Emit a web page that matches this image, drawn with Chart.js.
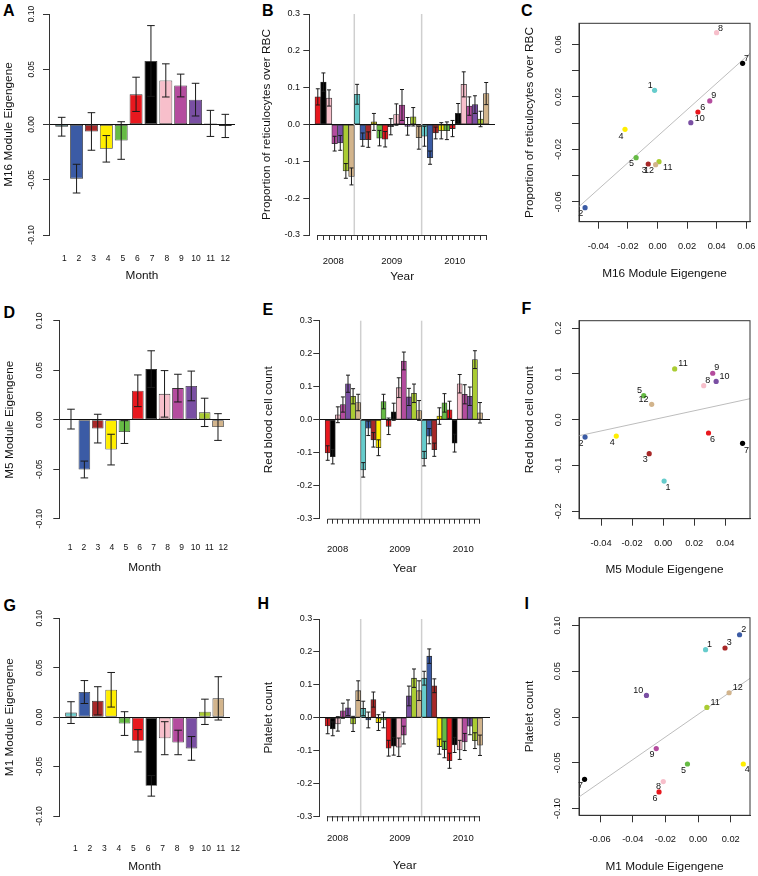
<!DOCTYPE html>
<html>
<head>
<meta charset="utf-8">
<script src="https://cdn.jsdelivr.net/npm/chart.js@4.4.0/dist/chart.umd.min.js"></script>
<style>
  html, body { margin: 0; padding: 0; background: #fff; }
  #fig { position: relative; width: 758px; height: 876px; overflow: hidden; }
  .tag { position: absolute; font: bold 16px "Liberation Sans", Arial, sans-serif; line-height: 16px; color: #000; }
</style>
</head>
<body>
<div id="fig">
  <div class="tag" style="left:3px;top:3px">A</div>
  <div class="tag" style="left:262px;top:3px">B</div>
  <div class="tag" style="left:521px;top:3px">C</div>
  <div class="tag" style="left:3.5px;top:304.7px">D</div>
  <div class="tag" style="left:262.5px;top:302px">E</div>
  <div class="tag" style="left:521.5px;top:301.3px">F</div>
  <div class="tag" style="left:3.5px;top:598px">G</div>
  <div class="tag" style="left:257.5px;top:596.3px">H</div>
  <div class="tag" style="left:524.5px;top:596.3px">I</div>
</div>
<script>
// ---- data ----
const MONTHS = [1, 2, 3, 4, 5, 6, 7, 8, 9, 10, 11, 12];

// module eigengene, mean and standard error per calendar month
const M16_MEAN = [-0.002, -0.049, -0.0063, -0.022, -0.0145, 0.0273, 0.0575, 0.0399, 0.0353, 0.0225, 0.001, -0.0013];
const M16_SE   = [0.0085, 0.013, 0.017, 0.012, 0.017, 0.0155, 0.032, 0.015, 0.0103, 0.0148, 0.0118, 0.0105];
const M5_MEAN  = [0.0006, -0.0503, -0.009, -0.0302, -0.0125, 0.0292, 0.0511, 0.0261, 0.0319, 0.0341, 0.0074, -0.0074];
const M5_SE    = [0.01, 0.0085, 0.0145, 0.0155, 0.0115, 0.016, 0.0185, 0.0235, 0.014, 0.015, 0.0143, 0.0135];
const M1_MEAN  = [0.0046, 0.0254, 0.0165, 0.0277, -0.0065, -0.0239, -0.0695, -0.0213, -0.0256, -0.0316, 0.0054, 0.019];
const M1_SE    = [0.011, 0.0116, 0.0143, 0.0175, 0.012, 0.0113, 0.0104, 0.0167, 0.0124, 0.012, 0.0128, 0.0219];

// blood traits, June 2008 - December 2010
const YEARS = [2008, 2009, 2010];
const SERIES_MONTH = [6, 7, 8, 9, 10, 11, 12,
                      1, 2, 3, 4, 5, 6, 7, 8, 9, 10, 11, 12,
                      1, 2, 3, 4, 5, 6, 7, 8, 9, 10, 11, 12];
const RETIC = [0.075, 0.115, 0.072, -0.052, -0.05, -0.126, -0.141,
               0.082, -0.041, -0.041, 0.007, -0.037, -0.04, -0.006, 0.027, 0.053, -0.005, 0.021, -0.036,
               -0.032, -0.09, -0.023, -0.017, -0.017, -0.011, 0.03, 0.109, 0.05, 0.054, 0.015, 0.084];
const RETIC_SE = [0.022, 0.025, 0.022, 0.02, 0.02, 0.02, 0.023,
                  0.027, 0.018, 0.021, 0.023, 0.021, 0.021, 0.022, 0.029, 0.042, 0.024, 0.025, 0.031,
                  0.027, 0.018, 0.016, 0.022, 0.024, 0.022, 0.027, 0.034, 0.025, 0.024, 0.021, 0.03];
const RBC = [-0.101, -0.112, 0.015, 0.046, 0.109, 0.071, 0.052,
             -0.152, -0.026, -0.061, -0.085, 0.055, -0.02, 0.024, 0.097, 0.178, 0.069, 0.08, 0.028,
             -0.118, -0.05, -0.091, 0.011, 0.051, 0.03, -0.071, 0.109, 0.077, 0.071, 0.182, 0.021];
const RBC_SE = [0.022, 0.022, 0.024, 0.023, 0.026, 0.023, 0.025,
                0.022, 0.022, 0.022, 0.024, 0.022, 0.025, 0.026, 0.03, 0.027, 0.026, 0.028, 0.03,
                0.022, 0.023, 0.02, 0.025, 0.028, 0.026, 0.027, 0.028, 0.029, 0.028, 0.027, 0.031];
const PLT = [-0.025, -0.034, -0.019, 0.021, 0.03, -0.019, 0.082,
             0.028, -0.007, 0.055, -0.015, -0.007, -0.093, -0.087, -0.09, -0.053, 0.066, 0.12, 0.082,
             0.12, 0.187, 0.097, -0.088, -0.097, -0.131, -0.083, -0.098, -0.074, -0.026, -0.07, -0.084];
const PLT_SE = [0.024, 0.021, 0.022, 0.023, 0.024, 0.023, 0.03,
                0.022, 0.024, 0.023, 0.024, 0.024, 0.024, 0.027, 0.028, 0.027, 0.03, 0.028, 0.03,
                0.021, 0.022, 0.021, 0.023, 0.025, 0.023, 0.023, 0.029, 0.026, 0.026, 0.024, 0.031];

// monthly trait means used in the scatter plots
const RETIC_BY_MONTH = [0.025, -0.0643, -0.0311, -0.0047, -0.0263, 0.0085, 0.0455, 0.0689, 0.0169, 0.0004, -0.0293, -0.0316];
const RBC_BY_MONTH   = [-0.134, -0.0379, -0.0743, -0.0357, 0.0524, -0.0291, -0.0517, 0.0743, 0.1015, 0.0837, 0.111, 0.0335];
const PLT_BY_MONTH   = [0.0735, 0.0898, 0.0753, -0.0513, -0.0513, -0.0818, -0.068, -0.0705, -0.0345, 0.0236, 0.0105, 0.0265];

// fitted lines, end points at the plot edges
const FIT_C_X = [-0.0531, 0.0625], FIT_C_Y = [-0.0635, 0.0531];
const FIT_F_X = [-0.0542, 0.0559], FIT_F_Y = [-0.035, 0.0459];
const FIT_I_X = [-0.0729, 0.0318], FIT_I_Y = [-0.0873, 0.0422];

// tick values
const EIGEN_TICKS = [-0.1, -0.05, 0, 0.05, 0.1];
const TRAIT_TICKS = [-0.3, -0.2, -0.1, 0, 0.1, 0.2, 0.3];
const C_XTICKS = [-0.04, -0.02, 0, 0.02, 0.04, 0.06];
const C_YTICKS = [-0.06, -0.04, -0.02, 0, 0.02, 0.04, 0.06];
const F_XTICKS = [-0.04, -0.02, 0, 0.02, 0.04];
const F_YTICKS = [-0.2, -0.1, 0, 0.1, 0.2];
const I_XTICKS = [-0.06, -0.04, -0.02, 0, 0.02];
const I_YTICKS = [-0.1, -0.05, 0, 0.05, 0.1];

// ---- style ----
const MONTH_COLORS = ['#66CCCC', '#3B5BA5', '#A82828', '#FFEE00', '#66BB44', '#E8181E',
                      '#000000', '#F7BFCB', '#B44C9E', '#7A4FA3', '#AACC33', '#D2B48C'];
const FONT = '"Liberation Sans", Arial, Helvetica, sans-serif';
const INK = '#111';
const AXIS = '#333';
Chart.defaults.font.family = FONT;
Chart.defaults.color = INK;

function panel(left, top, w, h) {
  const c = document.createElement('canvas');
  c.width = w; c.height = h;
  c.style.cssText = 'position:absolute;left:' + left + 'px;top:' + top + 'px;width:' + w + 'px;height:' + h + 'px';
  document.getElementById('fig').appendChild(c);
  return c;
}
const fixed = vals => s => { s.ticks = vals.map(v => ({ value: v })); };

// ---- plugins ----
function errorBars(se, cap) {
  return {
    id: 'errorBars',
    afterDatasetsDraw(chart) {
      const ctx = chart.ctx, ys = chart.scales.y;
      const vals = chart.data.datasets[0].data;
      ctx.save();
      ctx.strokeStyle = '#1a1a1a';
      ctx.lineWidth = 1;
      chart.getDatasetMeta(0).data.forEach((el, i) => {
        const top = ys.getPixelForValue(vals[i].y + se[i]);
        const bot = ys.getPixelForValue(vals[i].y - se[i]);
        ctx.beginPath();
        ctx.moveTo(el.x, top); ctx.lineTo(el.x, bot);
        ctx.moveTo(el.x - cap, top); ctx.lineTo(el.x + cap, top);
        ctx.moveTo(el.x - cap, bot); ctx.lineTo(el.x + cap, bot);
        ctx.stroke();
      });
      ctx.restore();
    }
  };
}

// y tick labels turned on their side, as in R
function sideTicks(x, size) {
  return {
    id: 'sideTicks',
    afterDraw(chart) {
      const ctx = chart.ctx, s = chart.scales.y;
      ctx.save();
      ctx.font = size + 'px ' + FONT;
      ctx.fillStyle = INK;
      ctx.textAlign = 'center';
      ctx.textBaseline = 'middle';
      s.ticks.forEach(t => {
        if (!t.label) return;
        ctx.save();
        ctx.translate(x, s.getPixelForValue(t.value));
        ctx.rotate(-Math.PI / 2);
        ctx.fillText(t.label, 0, 0);
        ctx.restore();
      });
      ctx.restore();
    }
  };
}

// grey year dividers and the tick baseline under the monthly series
const yearMarks = {
  id: 'yearMarks',
  beforeDatasetsDraw(chart) {
    const { ctx, chartArea: a, scales: { x } } = chart;
    ctx.save();
    ctx.strokeStyle = '#cfcfcf';
    ctx.lineWidth = 1.5;
    SERIES_MONTH.forEach((m, i) => {
      if (m !== 1 || i === 0) return;
      const px = x.getPixelForValue(i - 0.5);
      ctx.beginPath(); ctx.moveTo(px, a.top); ctx.lineTo(px, a.bottom); ctx.stroke();
    });
    ctx.restore();
  },
  afterDraw(chart) {
    const { ctx, chartArea: a, scales: { x } } = chart;
    const t = x.ticks;
    ctx.save();
    ctx.strokeStyle = AXIS;
    ctx.lineWidth = 1;
    ctx.beginPath();
    ctx.moveTo(x.getPixelForValue(t[0].value), a.bottom + 0.5);
    ctx.lineTo(x.getPixelForValue(t[t.length - 1].value), a.bottom + 0.5);
    ctx.stroke();
    ctx.restore();
  }
};

const frame = {
  id: 'frame',
  afterDraw(chart) {
    const { ctx, chartArea: a } = chart;
    ctx.save();
    ctx.strokeStyle = AXIS;
    ctx.lineWidth = 1;
    ctx.strokeRect(a.left, a.top, a.width, a.height);
    ctx.restore();
  }
};

function monthLabels(offsets) {
  return {
    id: 'monthLabels',
    afterDatasetsDraw(chart) {
      const ctx = chart.ctx;
      ctx.save();
      ctx.font = '9px ' + FONT;
      ctx.fillStyle = INK;
      ctx.textAlign = 'center';
      ctx.textBaseline = 'middle';
      chart.getDatasetMeta(0).data.forEach((el, i) => {
        ctx.fillText(String(MONTHS[i]), el.x + offsets[i][0], el.y + offsets[i][1]);
      });
      ctx.restore();
    }
  };
}

const zeroLine = c => (c.tick && Math.abs(c.tick.value) < 1e-9 ? INK : 'transparent');

// ---- panel builders ----
function monthChart(canvas, P, mean, se, yTitle) {
  return new Chart(canvas, {
    type: 'bar',
    data: {
      datasets: [{
        data: MONTHS.map((m, i) => ({ x: m, y: mean[i] })),
        backgroundColor: MONTH_COLORS,
        borderColor: AXIS,
        borderWidth: 0.8,
        borderSkipped: false,
        barPercentage: 0.87,
        categoryPercentage: 1
      }]
    },
    options: {
      responsive: false,
      animation: false,
      layout: { autoPadding: false, padding: { left: 0, top: P.top, right: P.right, bottom: 0 } },
      plugins: { legend: { display: false }, tooltip: { enabled: false } },
      scales: {
        x: {
          type: 'linear', display: false, offset: false, min: P.barMin, max: P.barMax,
          afterBuildTicks: fixed(MONTHS),
          afterFit: s => { s.height = 0; }
        },
        lab: {
          type: 'linear', position: 'bottom', offset: false, min: P.labMin, max: P.labMax,
          afterBuildTicks: fixed(MONTHS),
          afterFit: s => { s.height = P.labH; s.paddingLeft = 0; s.paddingRight = 0; },
          ticks: { autoSkip: false, maxRotation: 0, padding: P.labPad, font: { size: 8.5 }, callback: v => String(v) },
          grid: { display: false, drawTicks: false, offset: false },
          border: { display: false },
          title: { display: true, text: 'Month', font: { size: 11.8 }, padding: { top: 0, bottom: P.titlePadB } }
        },
        y: {
          min: -0.1, max: 0.1,
          afterBuildTicks: fixed(EIGEN_TICKS),
          afterFit: s => { s.width = P.left; s.paddingTop = 0; s.paddingBottom = 0; },
          ticks: { color: 'transparent', font: { size: 8.5 }, callback: v => v.toFixed(2) },
          grid: { color: zeroLine, tickColor: AXIS, tickLength: 6, lineWidth: 1 },
          border: { display: true, color: AXIS, width: 1 },
          title: { display: true, text: yTitle, font: { size: 11.8 }, padding: { top: P.yTitlePad, bottom: 0 } }
        }
      }
    },
    plugins: [errorBars(se, 3.8), sideTicks(P.tickX, 8.5)]
  });
}

function seriesChart(canvas, P, vals, se, yTitle) {
  return new Chart(canvas, {
    type: 'bar',
    data: {
      datasets: [{
        data: SERIES_MONTH.map((m, i) => ({ x: i, y: vals[i] })),
        backgroundColor: SERIES_MONTH.map(m => MONTH_COLORS[m - 1]),
        borderColor: AXIS,
        borderWidth: 0.8,
        borderSkipped: false,
        barPercentage: 1,
        categoryPercentage: 1
      }]
    },
    options: {
      responsive: false,
      animation: false,
      layout: { autoPadding: false, padding: { left: 0, top: P.top, right: P.right, bottom: 0 } },
      plugins: { legend: { display: false }, tooltip: { enabled: false } },
      scales: {
        x: {
          type: 'linear', position: 'bottom', weight: 0, offset: false, min: P.min, max: P.max,
          afterBuildTicks: fixed(SERIES_MONTH.map((m, i) => i)),
          afterFit: s => { s.height = 5; s.paddingLeft = 0; s.paddingRight = 0; },
          ticks: { autoSkip: false, maxRotation: 0, callback: () => '' },
          grid: { drawOnChartArea: false, drawTicks: true, tickLength: 5, tickColor: AXIS, offset: false },
          border: { display: false }
        },
        yr: {
          type: 'linear', position: 'bottom', weight: 1, offset: false, min: P.min, max: P.max,
          afterBuildTicks: fixed(P.yearAt),
          afterFit: s => { s.height = P.yrH; s.paddingLeft = 0; s.paddingRight = 0; },
          ticks: { autoSkip: false, maxRotation: 0, padding: P.yrPad, font: { size: 9.5 }, callback: (v, i) => String(YEARS[i]) },
          grid: { display: false, drawTicks: false, offset: false },
          border: { display: false },
          title: { display: true, text: 'Year', font: { size: 11.8 }, padding: { top: 0, bottom: P.titlePadB } }
        },
        y: {
          min: -0.3, max: 0.3,
          afterBuildTicks: fixed(TRAIT_TICKS),
          afterFit: s => { s.width = P.left; s.paddingTop = 0; s.paddingBottom = 0; },
          ticks: { padding: P.yTickPad, font: { size: 9 }, callback: v => v.toFixed(1) },
          grid: { color: zeroLine, tickColor: AXIS, tickLength: 6, lineWidth: 1 },
          border: { display: true, color: AXIS, width: 1 },
          title: { display: true, text: yTitle, font: { size: 11.8 }, padding: { top: P.yTitlePad, bottom: 0 } }
        }
      }
    },
    plugins: [yearMarks, errorBars(se, 2)]
  });
}

function scatterChart(canvas, P, xs, ys, fitX, fitY, xTicks, yTicks, yFmt, xTitle, yTitle) {
  return new Chart(canvas, {
    type: 'scatter',
    data: {
      datasets: [{
        data: MONTHS.map((m, i) => ({ x: xs[i], y: ys[i] })),
        pointBackgroundColor: MONTH_COLORS,
        pointBorderColor: MONTH_COLORS,
        pointBorderWidth: 0,
        pointRadius: 2.6,
        order: 1
      }, {
        type: 'line',
        data: fitX.map((x, i) => ({ x: x, y: fitY[i] })),
        borderColor: '#bdbdbd',
        borderWidth: 1,
        pointRadius: 0,
        order: 2
      }]
    },
    options: {
      responsive: false,
      animation: false,
      layout: { autoPadding: false, padding: { left: 0, top: P.top, right: P.right, bottom: 0 } },
      plugins: { legend: { display: false }, tooltip: { enabled: false } },
      scales: {
        x: {
          type: 'linear', min: P.xMin, max: P.xMax,
          afterBuildTicks: fixed(xTicks),
          afterFit: s => { s.height = P.xH; s.paddingLeft = 0; s.paddingRight = 0; },
          ticks: { autoSkip: false, maxRotation: 0, padding: P.xPad, font: { size: 9.3 }, callback: v => v.toFixed(2) },
          grid: { drawOnChartArea: false, tickLength: 7, tickColor: AXIS },
          border: { display: true, color: AXIS, width: 1 },
          title: { display: true, text: xTitle, font: { size: 11.8 }, padding: { top: 0, bottom: P.titlePadB } }
        },
        y: {
          type: 'linear', min: P.yMin, max: P.yMax,
          afterBuildTicks: fixed(yTicks),
          afterFit: s => { s.width = P.left; s.paddingTop = 0; s.paddingBottom = 0; },
          ticks: { color: 'transparent', font: { size: 9.3 }, callback: yFmt },
          grid: { drawOnChartArea: false, tickLength: 7, tickColor: AXIS },
          border: { display: true, color: AXIS, width: 1 },
          title: { display: true, text: yTitle, font: { size: 11.8 }, padding: { top: P.yTitlePad, bottom: 0 } }
        }
      }
    },
    plugins: [frame, sideTicks(P.tickX, 9.3), monthLabels(P.labelAt)]
  });
}

// ---- layout of the nine panels ----
monthChart(panel(0, 0, 250, 290), {
  left: 49, top: 14, right: 15, labH: 55, labPad: 18.4, titlePadB: 6.9, yTitlePad: 1.4, tickX: 32,
  barMin: 0.146, barMax: 12.652, labMin: -0.045, labMax: 12.663
}, M16_MEAN, M16_SE, 'M16 Module Eigengene');

monthChart(panel(0, 290, 250, 290), {
  left: 59.3, top: 30.7, right: 20, labH: 61.3, labPad: 24.2, titlePadB: 5.4, yTitlePad: 2.9, tickX: 39.3,
  barMin: 0.1245, barMax: 12.898, labMin: 0.232, labMax: 12.481
}, M5_MEAN, M5_SE, 'M5 Module Eigengene');

monthChart(panel(0, 580, 250, 296), {
  left: 59.3, top: 38.3, right: 20, labH: 60, labPad: 27.4, titlePadB: 2.4, yTitlePad: 2.9, tickX: 39.3,
  barMin: 0.126, barMax: 12.874, labMin: -0.1, labMax: 11.636
}, M1_MEAN, M1_SE, 'M1 Module Eigengene');

seriesChart(panel(250, 0, 255, 290), {
  left: 59.3, top: 14, right: 10, yrH: 50, yrPad: 15.3, titlePadB: 6.2, yTickPad: 3.3, yTitlePad: 9.6,
  min: -1.515, max: 31.57, yearAt: [2.76, 13.18, 24.4]
}, RETIC, RETIC_SE, 'Proportion of reticulocytes over RBC');

seriesChart(panel(250, 290, 255, 290), {
  left: 69.3, top: 30.7, right: 15, yrH: 56.3, yrPad: 19.9, titlePadB: 4.6, yTickPad: 1, yTitlePad: 11.2,
  min: -1.654, max: 31.97, yearAt: [1.95, 14.2, 26.7]
}, RBC, RBC_SE, 'Red blood cell count');

seriesChart(panel(250, 580, 255, 296), {
  left: 69.3, top: 39, right: 15, yrH: 54.7, yrPad: 11.3, titlePadB: 2.9, yTickPad: 1, yTitlePad: 11.2,
  min: -1.654, max: 31.97, yearAt: [1.95, 14.2, 26.7]
}, PLT, PLT_SE, 'Platelet count');

scatterChart(panel(505, 0, 253, 290), {
  left: 74, top: 23.3, right: 8, xH: 68.3, xPad: 11.7, titlePadB: 9.6, yTitlePad: 17.9, tickX: 53.3,
  xMin: -0.0531, xMax: 0.0625, yMin: -0.075, yMax: 0.076,
  labelAt: [[-4.3, -4.3], [-4.3, 5.7], [-4, 6.7], [-4, 6.7], [-4.7, 6.3], [4.7, -4.7],
            [4, -5], [4, -4.3], [4, -5], [9, -4.3], [8.7, 6], [-6.7, 6.3]]
}, M16_MEAN, RETIC_BY_MONTH, FIT_C_X, FIT_C_Y, C_XTICKS, C_YTICKS,
   (v, i) => (i % 2 === 0 ? v.toFixed(2) : ''), 'M16 Module Eigengene', 'Proportion of reticulocytes over RBC');

scatterChart(panel(505, 290, 253, 290), {
  left: 74, top: 30.7, right: 8, xH: 61.3, xPad: 12, titlePadB: 2.9, yTitlePad: 17.9, tickX: 53.3,
  xMin: -0.0542, xMax: 0.0559, yMin: -0.2163, yMax: 0.2163,
  labelAt: [[4, 6.3], [-4, 6.3], [-4, 6], [-4, 6.7], [-4.3, -5.7], [4, 6.3],
            [4, 6.7], [4, -5], [4, -6], [8.3, -4.7], [8.3, -5.7], [-8.3, -5]]
}, M5_MEAN, RBC_BY_MONTH, FIT_F_X, FIT_F_Y, F_XTICKS, F_YTICKS,
   v => v.toFixed(1), 'M5 Module Eigengene', 'Red blood cell count');

scatterChart(panel(505, 580, 253, 296), {
  left: 74, top: 37.7, right: 8, xH: 60.7, xPad: 11.4, titlePadB: 2.2, yTitlePad: 17.9, tickX: 52.7,
  xMin: -0.0729, xMax: 0.0318, yMin: -0.1073, yMax: 0.1084,
  labelAt: [[4, -5.3], [4.3, -5.7], [4.3, -5.3], [4, 6], [-4, 6.7], [-4, 6.7],
            [-4, 6.7], [-4.7, 5.3], [-4.3, 6.3], [-8.3, -4.7], [8.3, -5], [8.7, -5]]
}, M1_MEAN, PLT_BY_MONTH, FIT_I_X, FIT_I_Y, I_XTICKS, I_YTICKS,
   v => v.toFixed(2), 'M1 Module Eigengene', 'Platelet count');
</script>
</body>
</html>
